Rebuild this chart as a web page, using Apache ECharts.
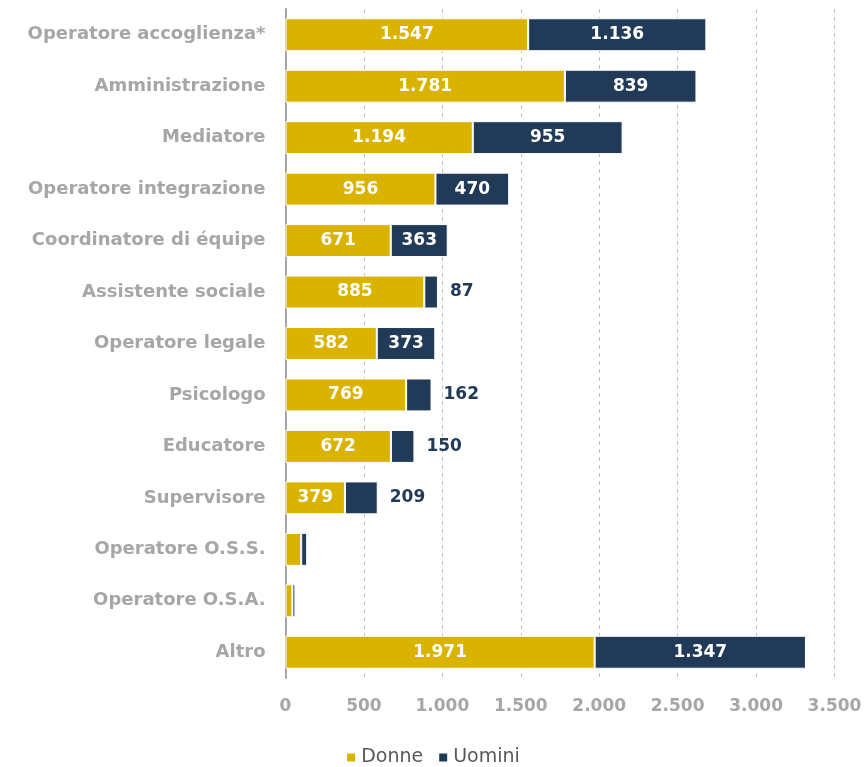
<!DOCTYPE html>
<html><head><meta charset="utf-8">
<script src="https://cdn.jsdelivr.net/npm/echarts@6/dist/echarts.min.js"></script>
<style>html,body{margin:0;padding:0;background:#fff}#c{width:865px;height:767px}</style>
</head><body><div id="c"></div>
<script>
const categories = ["Operatore accoglienza*","Amministrazione","Mediatore","Operatore integrazione","Coordinatore di équipe","Assistente sociale","Operatore legale","Psicologo","Educatore","Supervisore","Operatore O.S.S.","Operatore O.S.A.","Altro"];
const donne = [1547,1781,1194,956,671,885,582,769,672,379,100,44,1971];
const uomini = [1136,839,955,470,363,87,373,162,150,209,38,19,1347];
const xTicks = [0,500,1000,1500,2000,2500,3000,3500];
const smallThreshold = 300;
const hideBelow = 120;
const fmtNum = v => { const s = String(v); return s.length > 3 ? s.slice(0, s.length-3) + '.' + s.slice(-3) : s; };
const FONT = 'DejaVu Sans';
const chart = echarts.init(document.getElementById('c'));
chart.setOption({
  animation:false,
  grid:{left:285.5,right:30.5,top:9,bottom:89,containLabel:false},
  legend:{top:743,left:'center',itemWidth:10,itemHeight:10,itemGap:14,icon:'rect',
    textStyle:{fontFamily:FONT,fontSize:19,color:'#595959'},data:['Donne','Uomini']},
  xAxis:{type:'value',min:xTicks[0],max:xTicks[xTicks.length-1],interval:500,
    axisLine:{show:false},axisTick:{show:false},
    splitLine:{show:true,lineStyle:{type:[4,4],color:'#bfbfbf',width:1}},
    axisLabel:{margin:20,fontFamily:FONT,fontWeight:'bold',fontSize:17,color:'#a6a6a6',formatter:v=>fmtNum(v)}},
  yAxis:{type:'category',inverse:true,data:categories,
    axisLine:{show:true,lineStyle:{color:'#a6a6a6',width:2}},axisTick:{show:false},
    axisLabel:{margin:20,fontFamily:FONT,fontWeight:'bold',fontSize:18,color:'#a6a6a6'}},
  series:[
    {name:'Donne',type:'bar',stack:'t',barCategoryGap:'36%',
     itemStyle:{color:'#DAB200',borderColor:'#fff',borderWidth:1},
     label:{show:true,position:'inside',color:'#fff',fontFamily:FONT,fontWeight:'bold',fontSize:17,
       formatter:p=>p.value<hideBelow?'':fmtNum(p.value)},
     data:donne},
    {name:'Uomini',type:'bar',stack:'t',
     itemStyle:{color:'#203A58',borderColor:'#fff',borderWidth:1},
     data:uomini.map(v=>({value:v,label:{show:v>=hideBelow/2,
        position:v<smallThreshold?'right':'inside',distance:12,
        color:v<smallThreshold?'#203A58':'#fff',fontFamily:FONT,fontWeight:'bold',fontSize:17,
        formatter:p=>fmtNum(p.value)}}))}
  ]
});
</script></body></html>
